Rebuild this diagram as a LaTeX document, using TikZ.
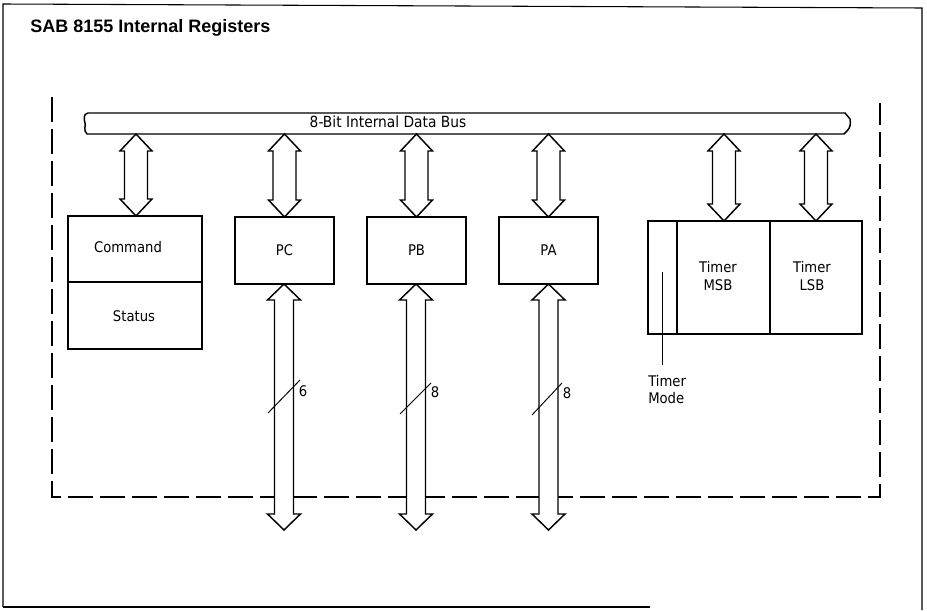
\documentclass[tikz,border=0pt]{standalone}
\usepackage{fontspec}
\newfontfamily\din{DejaVu Sans Condensed}
\newfontfamily\ttl{Liberation Sans}
\newcommand\dblhollow[6]{% x, ytop, ybot, shaft half, head half, head length
  \draw[harrow] (#1,#2) -- ({#1+#5},{#2+#6}) -- ({#1+#4},{#2+#6}) -- ({#1+#4},{#3-#6})
    -- ({#1+#5},{#3-#6}) -- (#1,#3) -- ({#1-#5},{#3-#6}) -- ({#1-#4},{#3-#6})
    -- ({#1-#4},{#2+#6}) -- ({#1-#5},{#2+#6}) -- cycle;}
\begin{document}
\begin{tikzpicture}[x=0.75pt,y=-0.75pt,
  reg/.style={draw, line width=1.5pt, inner sep=0pt},
  lbl/.style={font=\din\fontsize{11}{13}\selectfont, inner sep=0pt},
  harrow/.style={draw, line width=1.1pt, fill=white, line join=miter},
  dashbox/.style={line width=1.6pt, dash pattern=on 19pt off 5pt},
  frame/.style={line width=0.8pt},
  busline/.style={draw, line width=1.1pt, fill=white},
  slash/.style={line width=0.7pt}]
\useasboundingbox (0,0) rectangle (927,610);
% outer frame
\coordinate (f1) at (3,4);
\coordinate (f2) at (922,8);
\coordinate (f3) at (922,610);
\coordinate (f4) at (3,607);
\coordinate (f5) at (650,607);
\draw[frame] (f4) -- (f1) -- (f2) -- (f3);
\draw[frame] (f4) -- (f5);
% title
\node[anchor=base west, inner sep=0pt, font=\ttl\bfseries\fontsize{13.5}{16}\selectfont] (title) at (30,33) {SAB 8155 Internal Registers};
% dashed enclosure
\coordinate (d1) at (52,97);
\coordinate (d2) at (52,497);
\coordinate (d3) at (880,497);
\coordinate (d4) at (880,103);
\draw[dashbox] (d1) -- (d2) -- (d3) -- (d4);
% bus
\draw[busline] (88,113) -- (845,113) -- (850,119) .. controls (851,124) and (850,128) .. (847,131)
  -- (844,134) -- (87,134) .. controls (83,130) and (86,126) .. (85,123)
  .. controls (84,119) and (83,114) .. (88,113) -- cycle;
\node[lbl, font=\din\fontsize{11.5}{13}\selectfont] (busl) at (388,122) {8-Bit Internal Data Bus};
% upper arrows
\dblhollow{136}{134}{216}{11.5}{16}{17}
\dblhollow{284.5}{134}{217}{11.5}{16}{17}
\dblhollow{416.5}{134}{217}{11.5}{16}{17}
\dblhollow{548.5}{134}{217}{11.5}{16}{17}
\dblhollow{724}{134}{221}{11.5}{16}{17}
\dblhollow{816}{134}{221}{11.5}{16}{17}
% registers
\node[reg, minimum width=100.5pt, minimum height=49.5pt] (cmd) at (135,249) {};
\node[reg, minimum width=100.5pt, minimum height=50.25pt] (stat) at (135,315.5) {};
\node[lbl] (cmdt) at (128,247) {Command};
\node[lbl] (statt) at (134,316) {Status};
\node[reg, minimum width=74.25pt, minimum height=50.25pt] (pc) at (284.5,250.5) {};
\node[reg, minimum width=74.25pt, minimum height=50.25pt] (pb) at (416.5,250.5) {};
\node[reg, minimum width=74.25pt, minimum height=50.25pt] (pa) at (548.5,250.5) {};
\node[lbl] (pct) at (pc) {PC};
\node[lbl] (pbt) at (pb) {PB};
\node[lbl] (pat) at (pa) {PA};
\node[reg, minimum width=21.75pt, minimum height=84.75pt] (tmode) at (662.5,277.5) {};
\node[reg, minimum width=69.75pt, minimum height=84.75pt] (tmsb) at (723.5,277.5) {};
\node[reg, minimum width=69pt, minimum height=84.75pt] (tlsb) at (816,277.5) {};
\node[lbl, align=center] (tmsbt) at (718,276) {Timer\\MSB};
\node[lbl, align=center] (tlsbt) at (812,276) {Timer\\LSB};
\node[lbl, align=left, anchor=north west] (tmodet) at (648,375) {Timer\\Mode};
\coordinate (lead) at (662,272);
\coordinate (leadend) at (662,365);
\draw[slash] (lead) -- (leadend);
% lower arrows
\dblhollow{284}{284}{530}{9.5}{16.5}{16}
\dblhollow{416}{284}{530}{9.5}{16.5}{16}
\dblhollow{548.5}{284}{530}{9.5}{16.5}{16}
% bus width marks
\draw[slash] (268,413) -- (300,380);
\draw[slash] (400,414) -- (431,383);
\draw[slash] (532,415) -- (562,383);
\node[lbl] (n6) at (303,391) {6};
\node[lbl] (n8a) at (435,392) {8};
\node[lbl] (n8b) at (567,393) {8};
\end{tikzpicture}
\end{document}
